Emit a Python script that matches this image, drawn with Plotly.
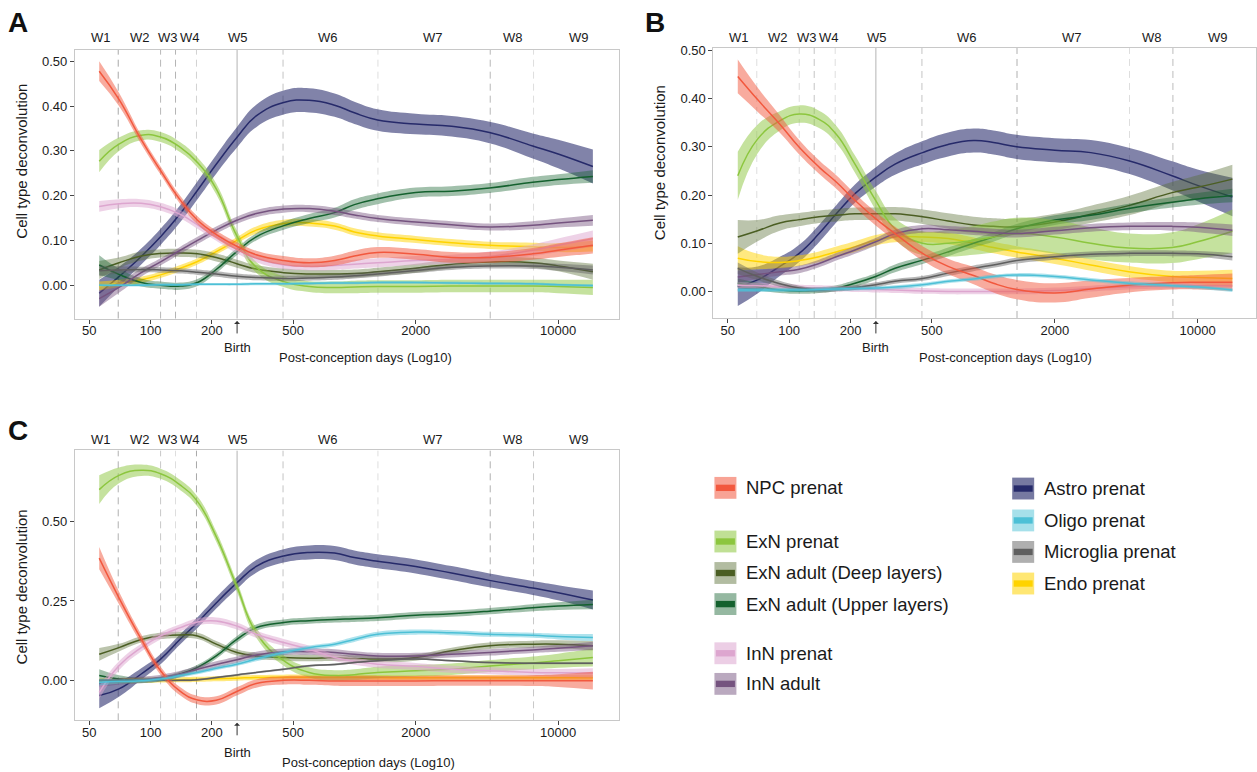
import math
import plotly.graph_objects as go

FIG_W, FIG_H = 1257, 772
FONT = "Liberation Sans, Arial, Helvetica, sans-serif"

# Sampled post-conception days (smoothed trajectories are drawn through these)
DAYS = [56, 70, 90, 112, 140, 170, 210, 265, 330, 450, 600, 800, 1000, 1300, 2000, 3000, 4600, 7500, 10000, 14800]

CELL_TYPES = ["NPC prenat", "ExN prenat", "ExN adult (Deep layers)", "ExN adult (Upper layers)",
              "InN prenat", "InN adult", "Astro prenat", "Oligo prenat", "Microglia prenat", "Endo prenat"]
LINE_COLORS = ["#F2583E", "#8CC63E", "#4B5E23", "#14612E", "#DDA6CF",
               "#75537F", "#262A6A", "#4DC0D6", "#5F5F5F", "#FFD300"]
BAND_RGB = [(242, 88, 62), (140, 198, 62), (85, 107, 47), (20, 97, 46), (221, 166, 207),
            (117, 83, 127), (38, 42, 106), (77, 192, 214), (95, 95, 95), (255, 211, 0)]
BAND_ALPHA = [0.5, 0.5, 0.4, 0.4, 0.5, 0.45, 0.58, 0.45, 0.45, 0.5]

# ---------------- Panel A ----------------
A_NPC = [.478, .415, .325, .256, .19, .145, .113, .087, .068, .055, .05, .055, .065, .073, .069, .062, .062, .07, .078, .089]
A_NPC_SE = [.022, .015, .01, .009, .009, .009, .009, .009, .009, .01, .01, .011, .012, .012, .012, .012, .012, .013, .015, .018]
A_EXN_PRE = [.277, .315, .335, .331, .308, .274, .215, .11, .04, .008, -.003, -.005, -.004, -.003, -.003, -.002, -.002, -.002, -.003, -.005]
A_EXN_PRE_SE = [.025, .015, .011, .011, .011, .011, .012, .012, .012, .012, .012, .013, .014, .014, .014, .014, .014, .014, .015, .017]
A_EXN_DEEP = [.034, .05, .065, .071, .072, .07, .062, .048, .036, .028, .025, .025, .026, .03, .038, .047, .052, .05, .043, .03]
A_EXN_DEEP_SE = [.02, .012, .01, .009, .009, .009, .009, .009, .009, .009, .009, .009, .009, .009, .01, .01, .01, .011, .012, .018]
A_EXN_UP = [.045, .024, .006, .0, -.002, .006, .035, .075, .108, .133, .149, .162, .18, .193, .207, .21, .217, .23, .236, .243]
A_EXN_UP_SE = [.022, .013, .009, .008, .008, .008, .008, .008, .008, .009, .01, .011, .012, .012, .011, .011, .011, .012, .012, .014]
A_INN_PRE = [.176, .182, .183, .175, .158, .135, .108, .08, .06, .045, .042, .044, .047, .05, .055, .058, .064, .078, .089, .104]
A_INN_PRE_SE = [.012, .01, .009, .009, .009, .009, .009, .009, .009, .009, .009, .01, .01, .01, .01, .01, .011, .013, .015, .018]
A_INN_AD = [-.03, -.005, .028, .052, .078, .1, .123, .145, .16, .17, .171, .165, .157, .149, .141, .135, .13, .134, .139, .145]
A_INN_AD_SE = [.018, .012, .009, .008, .008, .008, .008, .008, .008, .008, .008, .008, .008, .008, .008, .008, .008, .009, .01, .012]
A_ASTRO = [-.018, .019, .064, .108, .16, .212, .27, .33, .378, .408, .413, .402, .385, .369, .36, .355, .341, .311, .293, .265]
A_ASTRO_SE = [.03, .022, .018, .018, .019, .02, .021, .023, .025, .027, .027, .026, .025, .024, .023, .023, .024, .028, .032, .038]
A_OLIGO = [.0, .0, .0, .001, .001, .002, .002, .002, .003, .003, .004, .005, .005, .006, .006, .005, .004, .003, .001, -.001]
A_OLIGO_SE = [.003] * 20
A_MICRO = [.032, .034, .035, .034, .032, .029, .025, .02, .017, .015, .016, .018, .021, .025, .033, .04, .043, .043, .04, .034]
A_MICRO_SE = [.012, .008, .006, .006, .006, .006, .006, .006, .006, .006, .006, .006, .006, .006, .006, .006, .006, .007, .008, .01]
A_ENDO = [-.002, .004, .012, .023, .038, .053, .075, .1, .123, .138, .139, .132, .119, .11, .102, .095, .089, .086, .084, .087]
A_ENDO_SE = [.01, .008, .007, .007, .007, .007, .007, .007, .008, .008, .008, .008, .008, .008, .008, .008, .008, .009, .01, .012]

# ---------------- Panel B ----------------
B_NPC = [.446, .398, .347, .299, .258, .227, .189, .151, .12, .079, .052, .033, .017, .004, -.003, .005, .013, .018, .019, .019]
B_NPC_SE = [.035, .025, .018, .015, .014, .014, .014, .014, .014, .015, .016, .018, .019, .02, .02, .018, .015, .014, .015, .018]
B_EXN_PRE = [.24, .316, .354, .368, .357, .326, .264, .189, .13, .1, .1, .106, .113, .12, .113, .1, .09, .091, .103, .125]
B_EXN_PRE_SE = [.05, .03, .02, .018, .018, .018, .018, .02, .022, .025, .028, .03, .032, .033, .035, .033, .03, .032, .036, .045]
B_EXN_DEEP = [.113, .126, .142, .149, .155, .158, .161, .161, .161, .155, .146, .138, .135, .134, .144, .16, .178, .205, .216, .233]
B_EXN_DEEP_SE = [.035, .022, .016, .014, .013, .013, .013, .013, .014, .015, .016, .017, .017, .017, .017, .018, .02, .022, .025, .03]
B_EXN_UP = [.017, .01, .003, .001, .003, .007, .017, .031, .048, .065, .082, .1, .113, .13, .148, .158, .172, .185, .192, .199]
B_EXN_UP_SE = [.01, .008, .006, .006, .006, .006, .007, .007, .008, .008, .009, .009, .01, .01, .01, .01, .01, .011, .012, .014]
B_INN_PRE = [.013, .012, .01, .008, .007, .006, .005, .004, .003, .001, .0, .0, .0, .0, .002, .006, .01, .012, .012, .012]
B_INN_PRE_SE = [.006] * 20
B_INN_AD = [.03, .035, .041, .046, .058, .072, .086, .103, .12, .13, .128, .125, .122, .12, .126, .132, .135, .135, .133, .127]
B_INN_AD_SE = [.012, .009, .008, .008, .008, .008, .008, .008, .008, .008, .008, .008, .008, .008, .008, .008, .008, .009, .01, .012]
B_ASTRO = [.01, .024, .052, .079, .12, .161, .203, .237, .264, .288, .305, .313, .309, .3, .293, .288, .271, .24, .22, .196]
B_ASTRO_SE = [.04, .028, .02, .018, .018, .018, .019, .02, .022, .024, .025, .025, .025, .025, .025, .026, .027, .03, .033, .04]
B_OLIGO = [.003, .003, .003, .003, .004, .005, .006, .007, .009, .014, .021, .026, .031, .034, .031, .024, .017, .012, .009, .003]
B_OLIGO_SE = [.004] * 20
B_MICRO = [.048, .031, .016, .007, .003, .005, .008, .014, .021, .027, .038, .048, .055, .064, .072, .077, .079, .079, .078, .072]
B_MICRO_SE = [.012, .008, .006, .005, .005, .005, .005, .005, .005, .005, .006, .006, .006, .006, .006, .006, .006, .006, .006, .008]
B_ENDO = [.069, .062, .06, .064, .072, .082, .093, .106, .113, .113, .11, .1, .091, .082, .069, .055, .041, .031, .029, .027]
B_ENDO_SE = [.025, .016, .012, .011, .011, .011, .011, .011, .011, .011, .012, .012, .012, .012, .012, .012, .012, .012, .014, .018]

# ---------------- Panel C ----------------
C_NPC = [.385, .26, .13, .03, -.035, -.062, -.063, -.035, -.01, .0, .0, -.002, -.002, -.002, -.002, -.001, -.001, -.001, -.001, -.001]
C_NPC_SE = [.035, .02, .015, .013, .013, .013, .013, .013, .013, .013, .014, .015, .016, .016, .016, .016, .016, .017, .02, .028]
C_EXN_PRE = [.601, .646, .662, .651, .615, .563, .453, .296, .15, .062, .025, .015, .018, .025, .03, .035, .045, .055, .062, .072]
C_EXN_PRE_SE = [.045, .025, .018, .016, .016, .016, .016, .016, .016, .016, .016, .017, .017, .018, .018, .018, .019, .02, .022, .028]
C_EXN_DEEP = [.082, .103, .129, .14, .143, .14, .114, .088, .077, .072, .07, .071, .069, .067, .072, .093, .109, .114, .114, .109]
C_EXN_DEEP_SE = [.02, .012, .01, .01, .01, .01, .01, .01, .01, .01, .01, .01, .01, .01, .01, .01, .01, .011, .012, .015]
C_EXN_UP = [.015, .004, .0, .004, .02, .041, .077, .129, .166, .182, .188, .192, .194, .197, .205, .21, .218, .229, .234, .239]
C_EXN_UP_SE = [.02, .012, .009, .008, .008, .008, .009, .01, .01, .01, .01, .01, .01, .01, .01, .01, .01, .011, .012, .015]
C_INN_PRE = [-.038, .046, .103, .14, .166, .184, .187, .171, .145, .119, .098, .072, .06, .051, .044, .035, .03, .025, .024, .023]
C_INN_PRE_SE = [.02, .014, .012, .011, .011, .011, .011, .011, .011, .011, .011, .011, .011, .011, .011, .011, .011, .011, .012, .015]
C_INN_AD = [-.01, -.003, .002, .008, .02, .035, .05, .065, .08, .09, .09, .088, .082, .077, .077, .082, .088, .096, .101, .109]
C_INN_AD_SE = [.012, .01, .01, .01, .01, .01, .01, .01, .01, .01, .01, .01, .01, .01, .01, .01, .01, .01, .011, .013]
C_ASTRO = [-.048, -.027, .02, .067, .13, .182, .244, .307, .359, .392, .403, .401, .387, .375, .359, .338, .315, .291, .276, .253]
C_ASTRO_SE = [.04, .025, .018, .016, .016, .017, .018, .019, .02, .021, .022, .022, .022, .022, .022, .022, .022, .022, .024, .03]
C_OLIGO = [-.006, -.004, -.001, .004, .015, .025, .038, .051, .067, .088, .103, .114, .129, .145, .152, .15, .145, .142, .138, .135]
C_OLIGO_SE = [.01, .007, .006, .006, .006, .006, .006, .006, .007, .007, .007, .007, .008, .008, .008, .008, .008, .008, .009, .011]
C_MICRO = [.0, .0, .0, .0, .0, .002, .009, .017, .025, .035, .046, .05, .056, .062, .067, .062, .056, .054, .054, .054]
C_MICRO_SE = [.003] * 20
C_ENDO = [-.002, -.001, .0, .001, .002, .003, .005, .007, .009, .01, .01, .01, .01, .009, .008, .008, .008, .008, .008, .008]
C_ENDO_SE = [.008] * 20

# Developmental window boundaries, birth and window labels
WINDOW_BOUNDS = [69.4, 112, 132.6, 168, 446.7, 1305, 4641, 7570]
BIRTH_DAY = 265.8
WINDOW_LABELS = ["W1", "W2", "W3", "W4", "W5", "W6", "W7", "W8", "W9"]
WINDOW_CENTERS = [56.9, 88.6, 121.6, 155.8, 268, 740, 2430, 5990, 12620]
X_TICKS = [50, 100, 200, 500, 2000, 10000]

PANEL_SERIES = {
    "A": [(A_NPC, A_NPC_SE), (A_EXN_PRE, A_EXN_PRE_SE), (A_EXN_DEEP, A_EXN_DEEP_SE), (A_EXN_UP, A_EXN_UP_SE),
          (A_INN_PRE, A_INN_PRE_SE), (A_INN_AD, A_INN_AD_SE), (A_ASTRO, A_ASTRO_SE), (A_OLIGO, A_OLIGO_SE),
          (A_MICRO, A_MICRO_SE), (A_ENDO, A_ENDO_SE)],
    "B": [(B_NPC, B_NPC_SE), (B_EXN_PRE, B_EXN_PRE_SE), (B_EXN_DEEP, B_EXN_DEEP_SE), (B_EXN_UP, B_EXN_UP_SE),
          (B_INN_PRE, B_INN_PRE_SE), (B_INN_AD, B_INN_AD_SE), (B_ASTRO, B_ASTRO_SE), (B_OLIGO, B_OLIGO_SE),
          (B_MICRO, B_MICRO_SE), (B_ENDO, B_ENDO_SE)],
    "C": [(C_NPC, C_NPC_SE), (C_EXN_PRE, C_EXN_PRE_SE), (C_EXN_DEEP, C_EXN_DEEP_SE), (C_EXN_UP, C_EXN_UP_SE),
          (C_INN_PRE, C_INN_PRE_SE), (C_INN_AD, C_INN_AD_SE), (C_ASTRO, C_ASTRO_SE), (C_OLIGO, C_OLIGO_SE),
          (C_MICRO, C_MICRO_SE), (C_ENDO, C_ENDO_SE)],
}

# Panel geometry in pixels (left, right, top, bottom) and axis setup
PANELS = [
    dict(key="A", ax="", box=(75, 619, 45, 315.7), yr=(-0.0748, 0.526), xr=(1.629, 4.296),
         yticks=[0, .1, .2, .3, .4, .5], wlab=32.7, tip=318, birth_txt=345, xtitle=(366, 355),
         ytitle=(21.7, 157), letter=(18, 18),
         vcol=["#a8a8a8", "#b8b8b8", "#b4b4b4", "#d2d2d2", "#c4c4c4", "#dedede", "#b8b8b8", "#dedede"]),
    dict(key="B", ax="2", box=(714, 1257, 43.3, 315), yr=(-0.055, 0.505), xr=(1.629, 4.286),
         yticks=[0, .1, .2, .3, .4, .5], wlab=32.7, tip=318, birth_txt=345, xtitle=(1006, 355),
         ytitle=(660.7, 159), letter=(656, 18),
         vcol=["#dedede", "#dedede", "#c4c4c4", "#dedede", "#c4c4c4", "#b0b0b0", "#dedede", "#bcbcbc"]),
    dict(key="C", ax="3", box=(75, 619, 448.3, 720), yr=(-0.126, 0.7245), xr=(1.629, 4.296),
         yticks=[0, .25, .5], wlab=437.7, tip=722.5, birth_txt=752, xtitle=(369, 762),
         ytitle=(21.7, 585.5), letter=(18, 428),
         vcol=["#b0b0b0", "#c8c8c8", "#dedede", "#a8a8a8", "#c4c4c4", "#dedede", "#b0b0b0", "#c8c8c8"]),
]

# groups are layered in alphabetical order of cell type
DRAW_ORDER = sorted(range(len(CELL_TYPES)), key=lambda k: CELL_TYPES[k])


def px2fx(px):
    return px / FIG_W


def px2fy(py):
    return 1 - py / FIG_H


def rgba(rgb, a):
    return "rgba(%d,%d,%d,%.2f)" % (rgb[0], rgb[1], rgb[2], a)


def flat(rgb, a):
    return "rgb(%d,%d,%d)" % tuple(round(255 - a * (255 - c)) for c in rgb)


fig = go.Figure()
layout_axes = {}
annotations = []
shapes = []
SPLINE = dict(shape="spline", smoothing=1.3)

for p in PANELS:
    xa, ya = "x" + p["ax"], "y" + p["ax"]
    left, right, top, bottom = p["box"]
    y0, y1 = p["yr"]

    # developmental window boundaries (behind the curves)
    for v, col in zip(WINDOW_BOUNDS, p["vcol"]):
        fig.add_trace(go.Scatter(x=[v, v], y=[y0, y1], mode="lines", xaxis=xa, yaxis=ya,
                                 line=dict(color=col, width=1, dash="7px,5px"),
                                 hoverinfo="skip", showlegend=False))
    fig.add_trace(go.Scatter(x=[BIRTH_DAY, BIRTH_DAY], y=[y0, y1], mode="lines", xaxis=xa, yaxis=ya,
                             line=dict(color="#b4b4b4", width=1), hoverinfo="skip", showlegend=False))

    # smoothed trajectories with confidence ribbons
    series = PANEL_SERIES[p["key"]]
    for i in DRAW_ORDER:
        mean, se = series[i]
        lo = [m - s for m, s in zip(mean, se)]
        hi = [m + s for m, s in zip(mean, se)]
        fig.add_trace(go.Scatter(x=DAYS, y=lo, mode="lines", xaxis=xa, yaxis=ya,
                                 line=dict(width=0, **SPLINE), hoverinfo="skip", showlegend=False))
        fig.add_trace(go.Scatter(x=DAYS, y=hi, mode="lines", xaxis=xa, yaxis=ya, fill="tonexty",
                                 fillcolor=rgba(BAND_RGB[i], BAND_ALPHA[i]),
                                 line=dict(width=0, **SPLINE), hoverinfo="skip", showlegend=False))
        fig.add_trace(go.Scatter(x=DAYS, y=mean, mode="lines", xaxis=xa, yaxis=ya, name=CELL_TYPES[i],
                                 line=dict(color=LINE_COLORS[i], width=1.5, **SPLINE),
                                 showlegend=False))

    # window labels along the top
    for lab, c in zip(WINDOW_LABELS, WINDOW_CENTERS):
        annotations.append(dict(x=math.log10(c), y=px2fy(p["wlab"]), xref=xa, yref="paper", text=lab,
                                showarrow=False, xanchor="center", yanchor="middle",
                                font=dict(family=FONT, size=13, color="#1a1a1a")))

    common_ax = dict(showgrid=False, zeroline=False, showline=True, mirror=True,
                     linecolor="#c8c8c8", linewidth=1, ticks="outside", ticklen=4,
                     tickcolor="#444444", tickwidth=1,
                     tickfont=dict(family=FONT, size=13, color="#1a1a1a"))
    layout_axes["xaxis" + p["ax"]] = dict(
        common_ax, type="log", range=list(p["xr"]), domain=[px2fx(left), px2fx(right)],
        anchor=ya, tickvals=X_TICKS, ticktext=[str(t) for t in X_TICKS], ticklabelstandoff=-4)
    layout_axes["yaxis" + p["ax"]] = dict(
        common_ax, range=[y0, y1], domain=[px2fy(bottom), px2fy(top)], anchor=xa,
        tickvals=p["yticks"], tickformat=".2f")

    # birth arrow and label
    bx = math.log10(BIRTH_DAY)
    annotations.append(dict(x=bx, y=px2fy(p["tip"]), xref=xa, yref="paper", text="", showarrow=True,
                            ax=0, ay=14, arrowhead=1, arrowsize=1, arrowwidth=1, arrowcolor="#333333"))
    annotations.append(dict(x=bx, y=px2fy(p["birth_txt"]), xref=xa, yref="paper", text="Birth",
                            showarrow=False, font=dict(family=FONT, size=13, color="#1a1a1a"),
                            xanchor="center", yanchor="middle"))
    # axis titles
    annotations.append(dict(x=px2fx(p["xtitle"][0]), y=px2fy(p["xtitle"][1]), xref="paper", yref="paper",
                            text="Post-conception days (Log10)", showarrow=False,
                            font=dict(family=FONT, size=13, color="#1a1a1a"),
                            xanchor="center", yanchor="middle"))
    annotations.append(dict(x=px2fx(p["ytitle"][0]), y=px2fy(p["ytitle"][1]), xref="paper", yref="paper",
                            text="Cell type deconvolution", showarrow=False, textangle=-90,
                            font=dict(family=FONT, size=15, color="#1a1a1a"),
                            xanchor="center", yanchor="middle"))
    # panel letter
    annotations.append(dict(x=px2fx(p["letter"][0]), y=px2fy(p["letter"][1]), xref="paper", yref="paper",
                            text="<b>%s</b>" % p["key"], showarrow=False,
                            font=dict(family=FONT, size=28, color="#111111"),
                            xanchor="center", yanchor="middle"))

# legend drawn as keys with a ribbon-coloured square and a line stripe
LEGEND_COL1 = [("NPC prenat", 0, 486), ("ExN prenat", 1, 540), ("ExN adult (Deep layers)", 2, 571.7),
               ("ExN adult (Upper layers)", 3, 603), ("InN prenat", 4, 652.5), ("InN adult", 5, 683.3)]
LEGEND_COL2 = [("Astro prenat", 6, 486.7), ("Oligo prenat", 7, 518.8), ("Microglia prenat", 8, 550.5),
               ("Endo prenat", 9, 582.3)]
for items, kx, tx in [(LEGEND_COL1, 715, 745), (LEGEND_COL2, 1013, 1043)]:
    for label, idx, cy in items:
        shapes.append(dict(type="rect", xref="paper", yref="paper",
                           x0=px2fx(kx), x1=px2fx(kx + 22), y0=px2fy(cy + 11), y1=px2fy(cy - 11),
                           fillcolor=flat(BAND_RGB[idx], BAND_ALPHA[idx] + 0.05), line=dict(width=0)))
        shapes.append(dict(type="rect", xref="paper", yref="paper",
                           x0=px2fx(kx + 1.5), x1=px2fx(kx + 20.5), y0=px2fy(cy + 3.2), y1=px2fy(cy - 3.2),
                           fillcolor=LINE_COLORS[idx], line=dict(width=0)))
        annotations.append(dict(x=px2fx(tx), y=px2fy(cy), xref="paper", yref="paper", text=label,
                                showarrow=False, xanchor="left", yanchor="middle",
                                font=dict(family=FONT, size=18.5, color="#1a1a1a")))

fig.update_layout(
    width=FIG_W, height=FIG_H, margin=dict(l=0, r=0, t=0, b=0),
    paper_bgcolor="white", plot_bgcolor="white", showlegend=False,
    annotations=annotations, shapes=shapes, **layout_axes)

fig.write_html("out.html")
